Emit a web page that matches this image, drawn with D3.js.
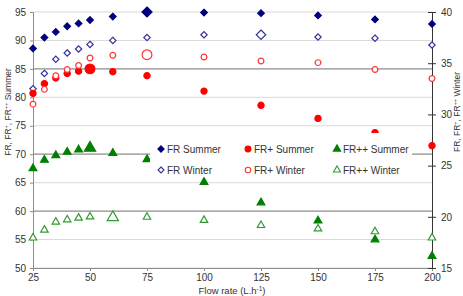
<!DOCTYPE html>
<html lang="en">
<head>
<meta charset="UTF-8">
<title>FR vs flow rate</title>
<script src="https://d3js.org/d3.v7.min.js"></script>
<style>
  body { margin: 0; background: #fff; }
  text { font-family: "Liberation Sans", Arial, sans-serif; fill: #333; }
</style>
</head>
<body>
<script>
var flowRate = [25, 30, 35, 40, 45, 50, 60, 75, 100, 125, 150, 175, 200];
var frSummer = [88.6, 90.5, 91.5, 92.5, 93.0, 93.6, 94.2, 95.0, 94.9, 94.8, 94.4, 93.7, 92.9];
var frWinter = [81.5, 84.2, 86.7, 87.8, 88.5, 89.3, 90.0, 90.5, 91.0, 91.0, 90.6, 90.4, 89.2];
var frpSummer = [80.7, 82.4, 83.4, 84.2, 84.6, 85.0, 84.5, 83.8, 81.1, 78.6, 76.3, 73.8, 71.5];
var frpWinter = [78.8, 81.4, 83.8, 84.9, 85.6, 86.9, 87.4, 87.5, 87.1, 86.4, 86.1, 84.9, 83.3];
var frppSummer = [67.5, 69.0, 69.8, 70.4, 70.8, 71.1, 70.2, 69.1, 65.1, 61.5, 58.3, 55.0, 52.1];
var frppWinter = [55.3, 56.7, 58.1, 58.5, 58.8, 59.0, 58.9, 58.95, 58.4, 57.5, 56.9, 56.4, 55.3];
// flow rate where each series is drawn with a bigger marker
var bigAt = { frSummer: 75, frWinter: 125, frpSummer: 50, frpWinter: 75, frppSummer: 50, frppWinter: 60 };

var xTicks = [25, 50, 75, 100, 125, 150, 175, 200];
var leftTicks = [50, 55, 60, 65, 70, 75, 80, 85, 90, 95];
var rightTicks = [15, 20, 25, 30, 35, 40];
var darkGrid = [85, 70, 60];

var width = 463, height = 296;
var mLeft = 33, mRight = 432, mTop = 12, mBottom = 268;

var svg = d3.select("body").append("svg")
    .attr("width", width)
    .attr("height", height);

var x = d3.scaleLinear().domain([25, 200]).range([mLeft, mRight]);
var y = d3.scaleLinear().domain([50, 95]).range([mBottom, mTop]);
var y2 = d3.scaleLinear().domain([15, 40]).range([mBottom, mTop]);

// gridlines
svg.append("g").selectAll("line")
    .data(leftTicks)
    .enter().append("line")
    .attr("x1", mLeft).attr("x2", mRight)
    .attr("y1", d => y(d)).attr("y2", d => y(d))
    .attr("stroke", d => darkGrid.indexOf(d) >= 0 ? "#8c8c8c" : "#d9d9d9")
    .attr("stroke-width", d => darkGrid.indexOf(d) >= 0 ? 1.3 : 1);

// axes
var gx = svg.append("g")
    .attr("transform", "translate(0," + mBottom + ")")
    .call(d3.axisBottom(x).tickValues(xTicks).tickSize(3).tickPadding(3));
var gl = svg.append("g")
    .attr("transform", "translate(" + mLeft + ",0)")
    .call(d3.axisLeft(y).tickValues(leftTicks).tickSize(3).tickPadding(4));
var gr = svg.append("g")
    .attr("transform", "translate(" + mRight + ",0)")
    .call(d3.axisRight(y2).tickValues(rightTicks).tickSizeInner(4).tickSizeOuter(0).tickPadding(5));

[gx, gl].forEach(function (g) {
    g.select(".domain").attr("stroke", "#8c8c8c");
    g.selectAll(".tick line").attr("stroke", "#8c8c8c");
});
gr.select(".domain").attr("stroke", "#333");
gr.selectAll(".tick line").attr("stroke", "#333").attr("x1", -4);
svg.selectAll(".tick text")
    .attr("font-size", 10)
    .attr("font-family", "Liberation Sans, Arial, sans-serif")
    .attr("fill", "#333");

// series
var diamond = {
    draw: function (ctx, size) {
        var r = Math.sqrt(size / 2);
        ctx.moveTo(0, -r); ctx.lineTo(r, 0); ctx.lineTo(0, r); ctx.lineTo(-r, 0); ctx.closePath();
    }
};
var series = [
    { key: "frSummer", name: "FR Summer", vals: frSummer, shape: diamond, fill: "#000080", stroke: "#000080", size: 22, sizeBig: 50 },
    { key: "frWinter", name: "FR Winter", vals: frWinter, shape: diamond, fill: "#fff", stroke: "#333399", size: 20, sizeBig: 45 },
    { key: "frpSummer", name: "FR+ Summer", vals: frpSummer, shape: d3.symbolCircle, fill: "#ff0000", stroke: "#ff0000", size: 30, sizeBig: 75 },
    { key: "frpWinter", name: "FR+ Winter", vals: frpWinter, shape: d3.symbolCircle, fill: "#fff", stroke: "#ff3333", size: 26, sizeBig: 75 },
    { key: "frppSummer", name: "FR++ Summer", vals: frppSummer, shape: d3.symbolTriangle, fill: "#008000", stroke: "#008000", size: 26, sizeBig: 55 },
    { key: "frppWinter", name: "FR++ Winter", vals: frppWinter, shape: d3.symbolTriangle, fill: "#fff", stroke: "#339933", size: 24, sizeBig: 55 }
];

series.forEach(function (s) {
    svg.append("g").selectAll("path")
        .data(flowRate.map((f, i) => ({ f: f, v: s.vals[i] })))
        .enter().append("path")
        .attr("transform", d => "translate(" + x(d.f) + "," + y(d.v) + ")")
        .attr("d", d => d3.symbol().type(s.shape).size(d.f === bigAt[s.key] ? s.sizeBig : s.size)())
        .attr("fill", s.fill)
        .attr("stroke", s.stroke)
        .attr("stroke-width", 1.2);
});

// legend
var lg = svg.append("g");
lg.append("rect")
    .attr("x", 150).attr("y", 133)
    .attr("width", 262).attr("height", 44)
    .attr("fill", "#fff");
var legendOrder = [series[0], series[2], series[4], series[1], series[3], series[5]];
var colX = [161, 248, 337];
legendOrder.forEach(function (s, i) {
    var cx = colX[i % 3], cy = i < 3 ? 149 : 170;
    lg.append("path")
        .attr("transform", "translate(" + cx + "," + cy + ")")
        .attr("d", d3.symbol().type(s.shape).size(s.size * 0.9)())
        .attr("fill", s.fill).attr("stroke", s.stroke).attr("stroke-width", 1.1);
    lg.append("text")
        .attr("x", cx + 6).attr("y", cy + 3.5)
        .attr("font-size", 10)
        .text(s.name);
});

// axis titles
var xt = svg.append("text")
    .attr("x", 232).attr("y", 294)
    .attr("text-anchor", "middle")
    .attr("font-size", 9.5);
xt.append("tspan").text("Flow rate (L.h");
xt.append("tspan").attr("baseline-shift", "super").attr("font-size", 6.5).text("-1");
xt.append("tspan").text(")");

function yTitle(tx, ty, word) {
    var t = svg.append("text")
        .attr("transform", "translate(" + tx + "," + ty + ") rotate(-90)")
        .attr("text-anchor", "middle")
        .attr("font-size", 8.5);
    t.append("tspan").text("FR, FR");
    t.append("tspan").attr("baseline-shift", "super").attr("font-size", 5.5).text("+");
    t.append("tspan").text(", FR");
    t.append("tspan").attr("baseline-shift", "super").attr("font-size", 5.5).text("++");
    t.append("tspan").text(" " + word);
}
yTitle(11, 112, "Summer");
yTitle(460, 112, "Winter");
</script>
</body>
</html>
